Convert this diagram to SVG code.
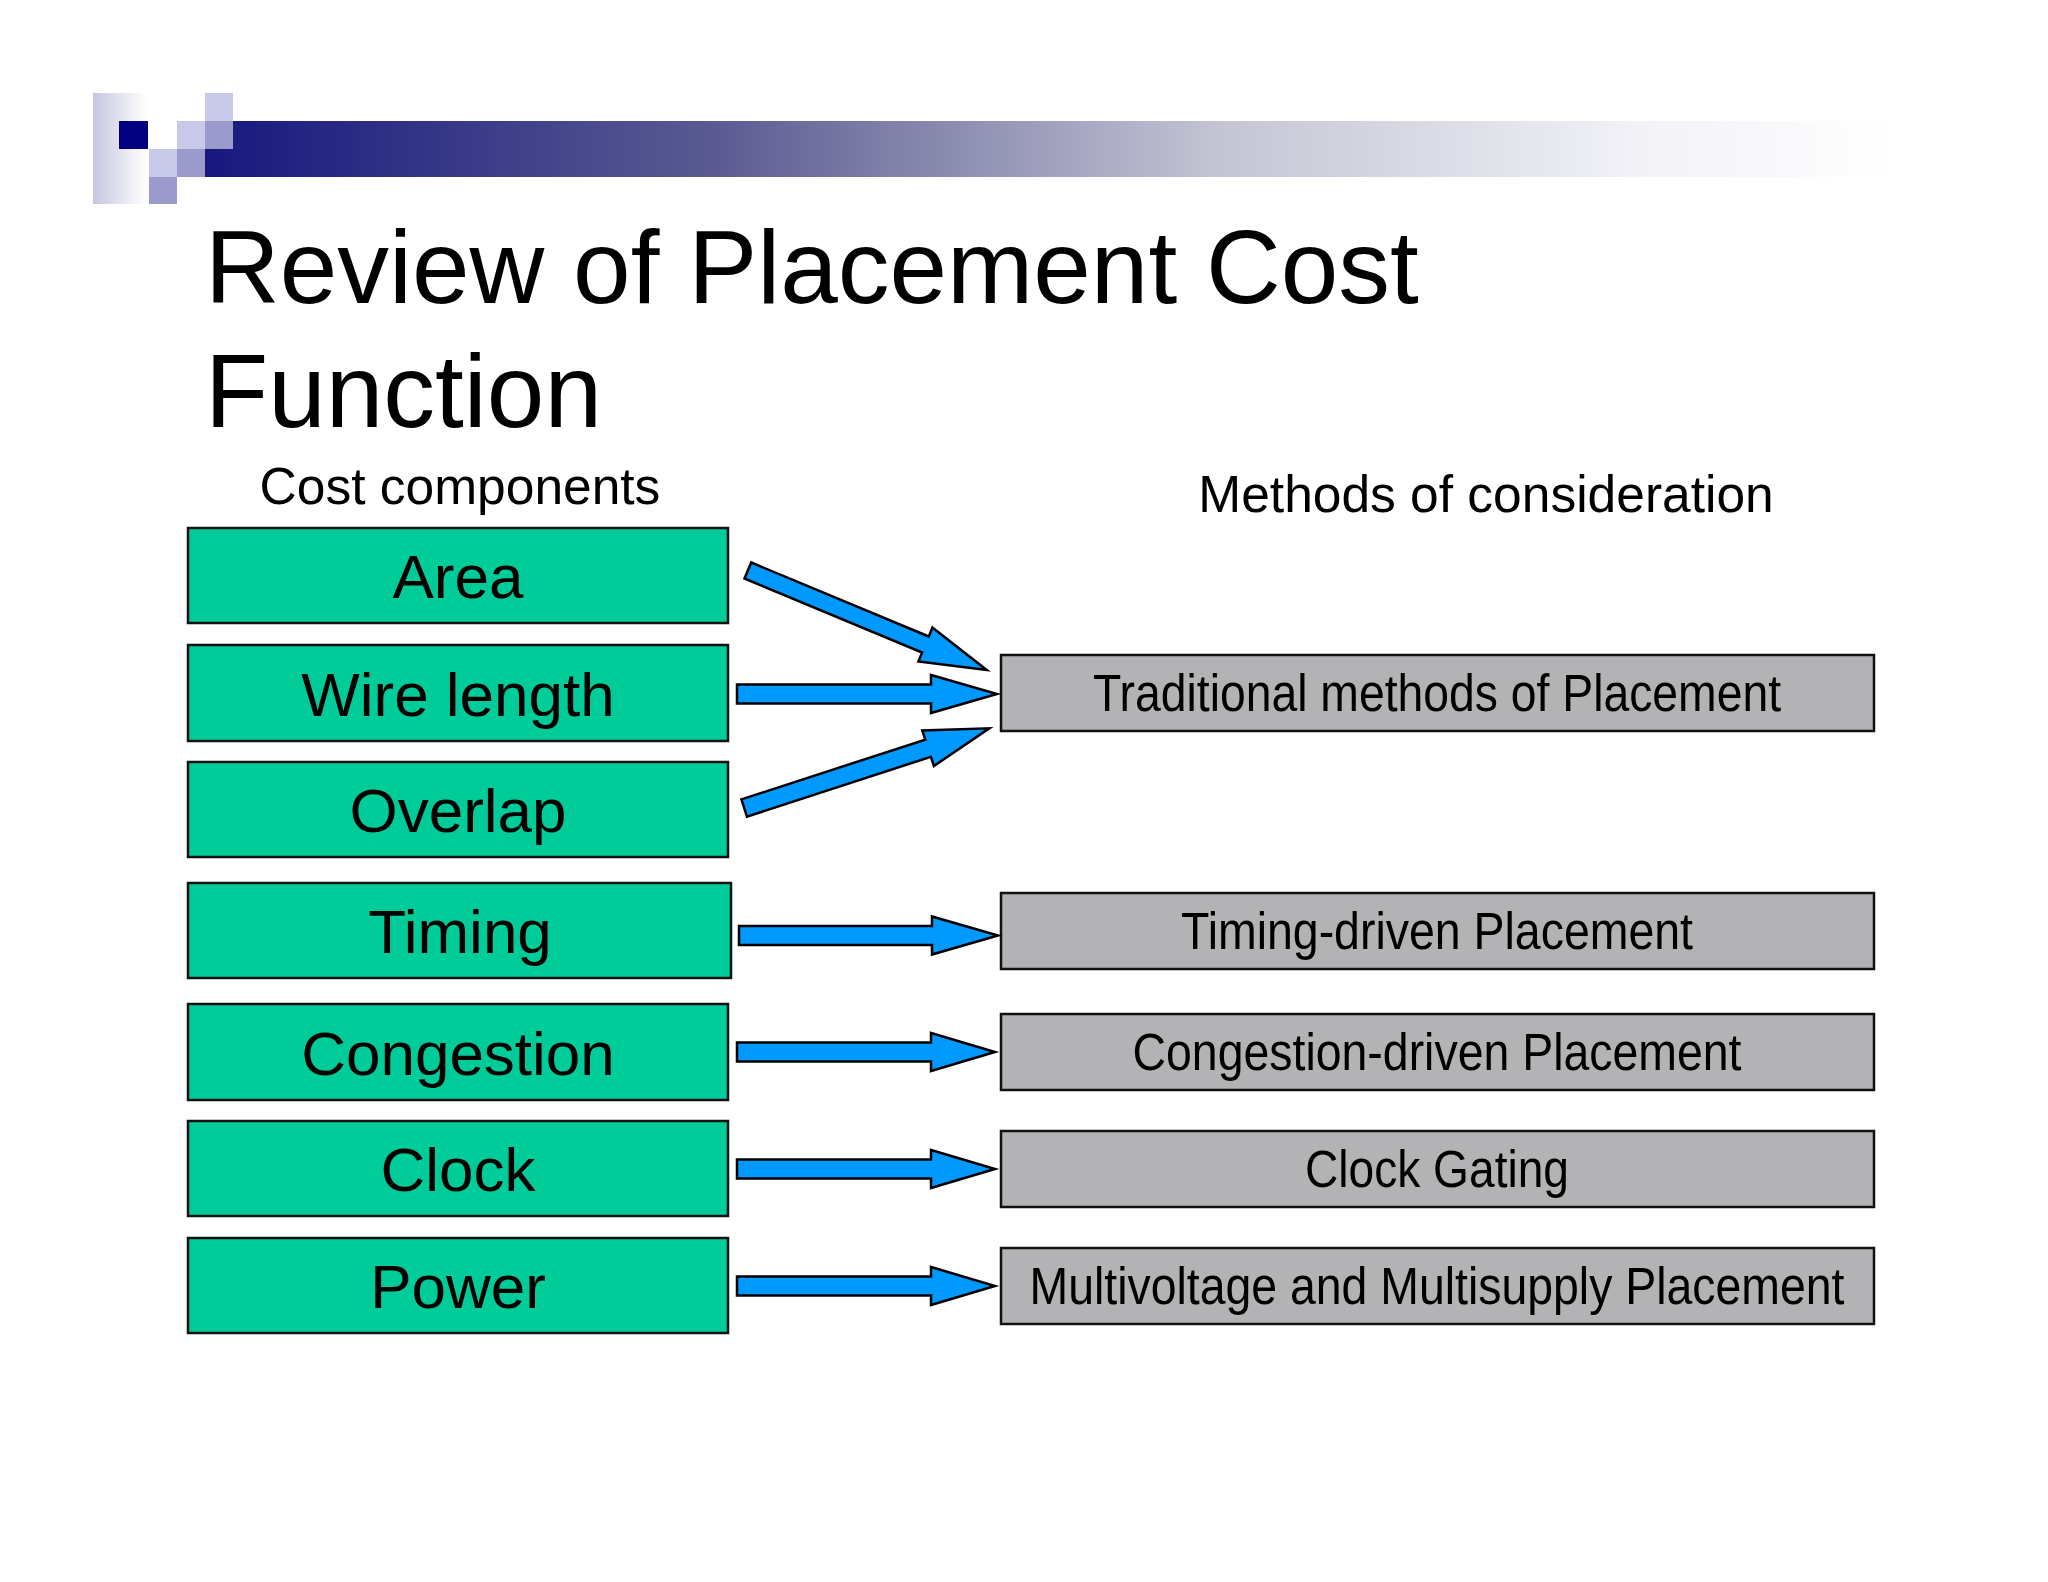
<svg xmlns="http://www.w3.org/2000/svg" width="2048" height="1582" viewBox="0 0 2048 1582">
<defs>
<linearGradient id="bar" x1="205" y1="0" x2="1894" y2="0" gradientUnits="userSpaceOnUse">
<stop offset="0" stop-color="#17177f"/>
<stop offset="0.3" stop-color="#5a5a92"/>
<stop offset="0.6" stop-color="#c4c4d4"/>
<stop offset="0.85" stop-color="#f2f2f8"/>
<stop offset="1" stop-color="#ffffff"/>
</linearGradient>
<linearGradient id="side" x1="0" y1="0" x2="1" y2="0">
<stop offset="0" stop-color="#c6c6e2"/>
<stop offset="1" stop-color="#ffffff"/>
</linearGradient>
<style>
.g{fill:#00cc99;stroke:#111;stroke-width:2.5}
.m{fill:#b3b2b5;stroke:#111;stroke-width:2.5}
.gt{font-family:"Liberation Sans",Arial,sans-serif;font-size:62px;fill:#000;text-anchor:middle}
.mt{font-family:"Liberation Sans",Arial,sans-serif;font-size:51px;fill:#000;text-anchor:middle}
.h{font-family:"Liberation Sans",Arial,sans-serif;font-size:51.5px;fill:#000;text-anchor:middle}
.ti{font-family:"Liberation Sans",Arial,sans-serif;font-size:103.5px;fill:#000}
.a{fill:#0099ff;stroke:#000;stroke-width:2.5;stroke-linejoin:miter}
.lt{fill:#c8c8e8}
.md{fill:#9a9acc}
</style>
</defs>
<rect width="2048" height="1582" fill="#ffffff"/>
<g id="decoration">
<rect x="93" y="93" width="54" height="111" fill="url(#side)"/>
<rect x="205" y="121" width="1689" height="56" fill="url(#bar)"/>
<rect x="119" y="121" width="29" height="28" fill="#000080"/>
<rect class="lt" x="149" y="149" width="28" height="28"/>
<rect class="md" x="149" y="177" width="28" height="27"/>
<rect class="lt" x="177" y="121" width="28" height="28"/>
<rect class="md" x="177" y="149" width="28" height="28"/>
<rect class="lt" x="205" y="93" width="28" height="28"/>
<rect class="md" x="205" y="121" width="28" height="28"/>
</g>
<g id="title">
<text class="ti" x="205" y="303">Review of Placement Cost</text>
<text class="ti" x="205" y="427">Function</text>
</g>
<g id="headers">
<text class="h" x="460" y="504">Cost components</text>
<text class="h" x="1486" y="512">Methods of consideration</text>
</g>
<g id="cost-area"><rect class="g" x="188" y="528" width="540" height="95"/><text class="gt" x="458" y="598">Area</text></g>
<g id="cost-wire"><rect class="g" x="188" y="645" width="540" height="96"/><text class="gt" x="458" y="716">Wire length</text></g>
<g id="cost-overlap"><rect class="g" x="188" y="762" width="540" height="95"/><text class="gt" x="458" y="832">Overlap</text></g>
<g id="cost-timing"><rect class="g" x="188" y="883" width="543" height="95"/><text class="gt" x="460" y="953">Timing</text></g>
<g id="cost-congestion"><rect class="g" x="188" y="1004" width="540" height="96"/><text class="gt" x="458" y="1075">Congestion</text></g>
<g id="cost-clock"><rect class="g" x="188" y="1121" width="540" height="95"/><text class="gt" x="458" y="1191">Clock</text></g>
<g id="cost-power"><rect class="g" x="188" y="1238" width="540" height="95"/><text class="gt" x="458" y="1308">Power</text></g>
<g id="method-traditional"><rect class="m" x="1001" y="655" width="873" height="76"/><text class="mt" x="1437" y="711" textLength="688" lengthAdjust="spacingAndGlyphs">Traditional methods of Placement</text></g>
<g id="method-timing"><rect class="m" x="1001" y="893" width="873" height="76"/><text class="mt" x="1437" y="949" textLength="512" lengthAdjust="spacingAndGlyphs">Timing-driven Placement</text></g>
<g id="method-congestion"><rect class="m" x="1001" y="1014" width="873" height="76"/><text class="mt" x="1437" y="1070" textLength="609" lengthAdjust="spacingAndGlyphs">Congestion-driven Placement</text></g>
<g id="method-clock"><rect class="m" x="1001" y="1131" width="873" height="76"/><text class="mt" x="1437" y="1187" textLength="264" lengthAdjust="spacingAndGlyphs">Clock Gating</text></g>
<g id="method-multivoltage"><rect class="m" x="1001" y="1248" width="873" height="76"/><text class="mt" x="1437" y="1304" textLength="815" lengthAdjust="spacingAndGlyphs">Multivoltage and Multisupply Placement</text></g>
<g id="connectors">
<polygon class="a" points="751.2,562.5 928.8,636.5 932.4,627.6 986.7,670 918.4,661.4 922.1,652.5 744.5,578.5"/>
<polygon class="a" points="737,684.5 931,684.5 931,675 997,694 931,713 931,703.5 737,703.5"/>
<polygon class="a" points="741.4,799.4 925.3,739.6 922.3,730.4 989.3,728.3 933.9,766 930.9,756.8 747,816.6"/>
<polygon class="a" points="739,926 932,926 932,916.5 998,935.5 932,954.5 932,945 739,945"/>
<polygon class="a" points="737,1042.5 931,1042.5 931,1033 995,1052 931,1071 931,1061.5 737,1061.5"/>
<polygon class="a" points="737,1159.5 931,1159.5 931,1150 995,1169 931,1188 931,1178.5 737,1178.5"/>
<polygon class="a" points="737,1276.5 931,1276.5 931,1267 995,1286 931,1305 931,1295.5 737,1295.5"/>
</g>
</svg>
